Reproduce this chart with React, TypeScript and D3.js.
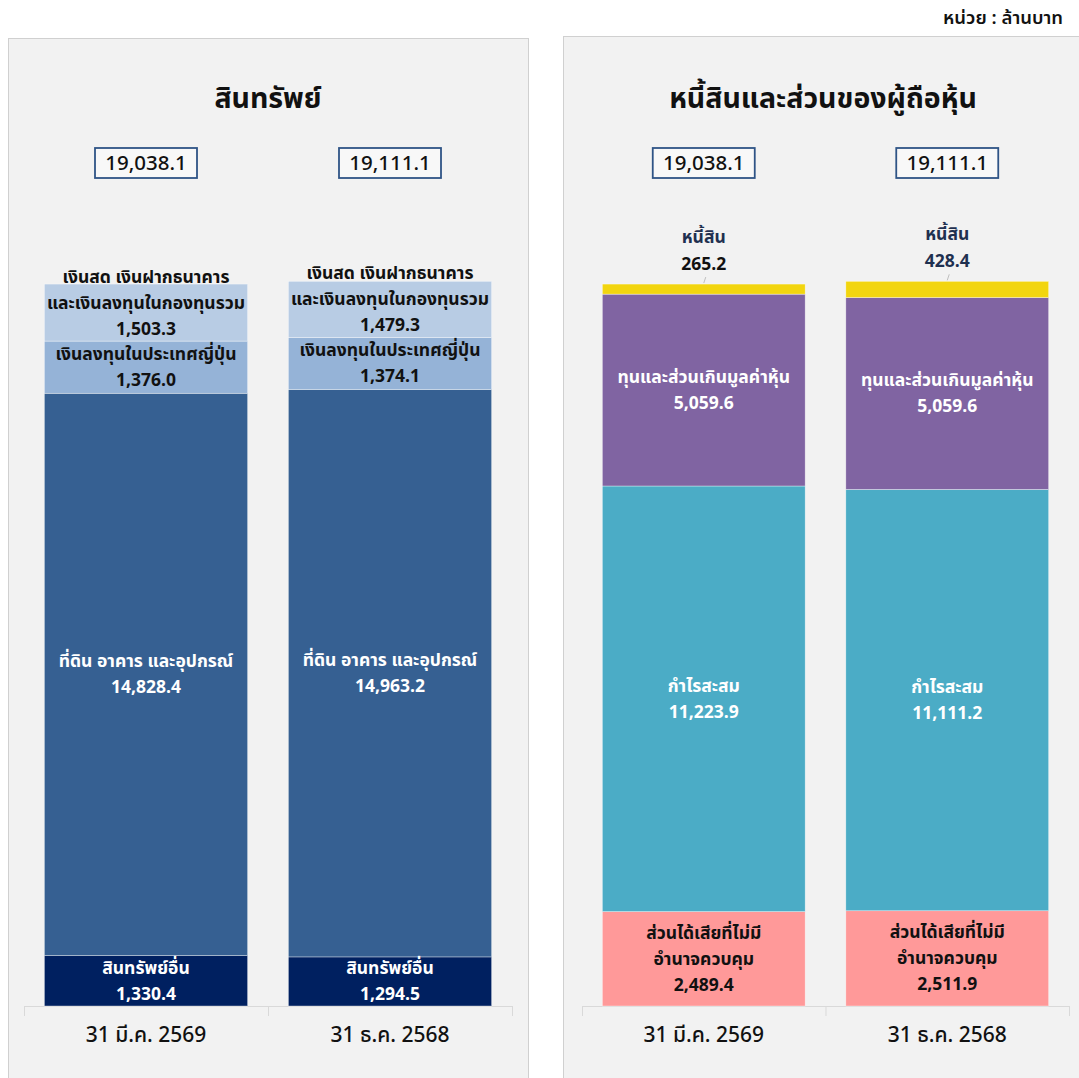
import { useEffect, useRef } from "react";
import * as d3 from "d3";

const periods = ["31 มี.ค. 2569", "31 ธ.ค. 2568"];
const totals = [19038.1, 19111.1];

// assets, bottom to top
const assetNames = ["สินทรัพย์อื่น", "ที่ดิน อาคาร และอุปกรณ์", "เงินลงทุนในประเทศญี่ปุ่น", "เงินสด เงินฝากธนาคาร|และเงินลงทุนในกองทุนรวม"];
const otherAssets = [1330.4, 1294.5];
const ppe = [14828.4, 14963.2];
const japanInv = [1376.0, 1374.1];
const cashFunds = [1503.3, 1479.3];
const assetColors = ["#002060", "#366092", "#95b3d7", "#b8cce4"];
const assetText = ["#ffffff", "#ffffff", "#111111", "#111111"];

// liabilities + equity, bottom to top
const liabNames = ["ส่วนได้เสียที่ไม่มี|อำนาจควบคุม", "กำไรสะสม", "ทุนและส่วนเกินมูลค่าหุ้น", "หนี้สิน"];
const nonControlling = [2489.4, 2511.9];
const retained = [11223.9, 11111.2];
const capital = [5059.6, 5059.6];
const liabilities = [265.2, 428.4];
const liabColors = ["#ff9999", "#4bacc6", "#8064a2", "#f2d50f"];
const liabText = ["#111111", "#ffffff", "#ffffff", "#1f3050"];

const fmt = d3.format(",.1f");
const FONT = "'Noto Sans Thai', 'Noto Sans', sans-serif";

const App = () => {
  const ref = useRef<SVGSVGElement>(null);

  useEffect(() => {
    const svg = d3.select(ref.current);
    svg.selectAll("*").remove();
    const W = 1079, H = 1078;
    svg.attr("width", W).attr("height", H).style("font-family", FONT);

    svg.append("rect").attr("width", W).attr("height", H).attr("fill", "#ffffff");

    svg.append("text").attr("x", 1063).attr("y", 24).attr("text-anchor", "end")
      .attr("font-size", 18.5).attr("font-weight", 600).attr("fill", "#111").text("หน่วย : ล้านบาท");

    const y = d3.scaleLinear().domain([0, 25000]).range([1006, 58]);

    const panel = (
      px: number, py: number, pw: number, title: string,
      x0: number, x1: number, series: number[][], names: string[],
      colors: string[], textColors: string[]
    ) => {
      const g = svg.append("g");
      g.append("rect").attr("x", px + 0.5).attr("y", py + 0.5).attr("width", pw).attr("height", H - py + 5)
        .attr("fill", "#f2f2f2").attr("stroke", "#d0d0d0");
      g.append("text").attr("x", px + pw / 2).attr("y", 108).attr("text-anchor", "middle")
        .attr("font-size", 28.5).attr("font-weight", 700).attr("fill", "#111").text(title);

      const x = d3.scaleBand().domain(periods).range([x0, x1]);
      const bw = x.bandwidth() * 0.833;

      // axis line + ticks
      g.append("line").attr("x1", x0).attr("x2", x1).attr("y1", y(0) + 0.5).attr("y2", y(0) + 0.5)
        .attr("stroke", "#d9d9d9");
      [x0, ...periods.map((p) => (x(p) as number) + x.bandwidth())].forEach((t) => {
        g.append("line").attr("x1", t + 0.5).attr("x2", t + 0.5).attr("y1", y(0)).attr("y2", y(0) + 10)
          .attr("stroke", "#d9d9d9");
      });

      periods.forEach((p, i) => {
        const cx = (x(p) as number) + x.bandwidth() / 2;
        const bx = cx - bw / 2;
        let acc = 0;
        series.forEach((s, k) => {
          const v = s[i];
          const yTop = y(acc + v), yBot = y(acc);
          g.append("rect").attr("x", bx).attr("y", yTop).attr("width", bw).attr("height", yBot - yTop)
            .attr("fill", colors[k]).attr("stroke", "#ffffff").attr("stroke-width", 0.6).attr("stroke-opacity", 0.6);
          acc += v;
        });
        // labels
        acc = 0;
        series.forEach((s, k) => {
          const v = s[i];
          const yTop = y(acc + v), yBot = y(acc);
          acc += v;
          const lines = [...names[k].split("|"), fmt(v)];
          const small = yBot - yTop < 30;
          let mid = (yTop + yBot) / 2;
          if (lines.length === 3 && k === series.length - 1) mid -= 10;
          if (small) {
            // label above bar with leader
            const lx = cx;
            g.append("line").attr("x1", lx + 2).attr("y1", yTop - 7).attr("x2", lx).attr("y2", yTop - 1)
              .attr("stroke", "#bfbfbf");
            const t = g.append("text").attr("text-anchor", "middle").attr("font-size", 17.5).attr("font-weight", 700)
              .attr("fill", textColors[k]);
            t.append("tspan").attr("x", lx).attr("y", yTop - 41).text(lines[0]);
            t.append("tspan").attr("x", lx).attr("y", yTop - 14).attr("fill", i === 0 ? "#111" : textColors[k]).text(lines[1]);
            return;
          }
          const lh = 26;
          const start = mid - ((lines.length - 1) * lh) / 2;
          const t = g.append("text").attr("text-anchor", "middle").attr("font-size", 17.5).attr("font-weight", 700)
            .attr("fill", textColors[k]);
          lines.forEach((ln, j) => {
            t.append("tspan").attr("x", cx).attr("y", start + j * lh + 6).text(ln);
          });
        });

        // total box
        const bwBox = 102;
        g.append("rect").attr("x", cx - bwBox / 2).attr("y", 148).attr("width", bwBox).attr("height", 30)
          .attr("fill", "#f8f8f8").attr("stroke", "#2f5486").attr("stroke-width", 1.8);
        g.append("text").attr("x", cx).attr("y", 170).attr("text-anchor", "middle").attr("font-size", 20.5)
          .attr("font-weight", 500).attr("fill", "#111").text(fmt(totals[i]));

        // category label
        g.append("text").attr("x", cx).attr("y", 1042).attr("text-anchor", "middle").attr("font-size", 21)
          .attr("font-weight", 500).attr("fill", "#111").text(p);
      });
    };

    panel(8, 38, 520, "สินทรัพย์", 24, 512,
      [otherAssets, ppe, japanInv, cashFunds], assetNames, assetColors, assetText);
    panel(563, 36, 520, "หนี้สินและส่วนของผู้ถือหุ้น", 582, 1069,
      [nonControlling, retained, capital, liabilities], liabNames, liabColors, liabText);
  }, []);

  return (
    <div style={{ position: "absolute", left: 0, top: 0 }}>
      <svg ref={ref} style={{ display: "block" }}></svg>
    </div>
  );
};

export default App;
